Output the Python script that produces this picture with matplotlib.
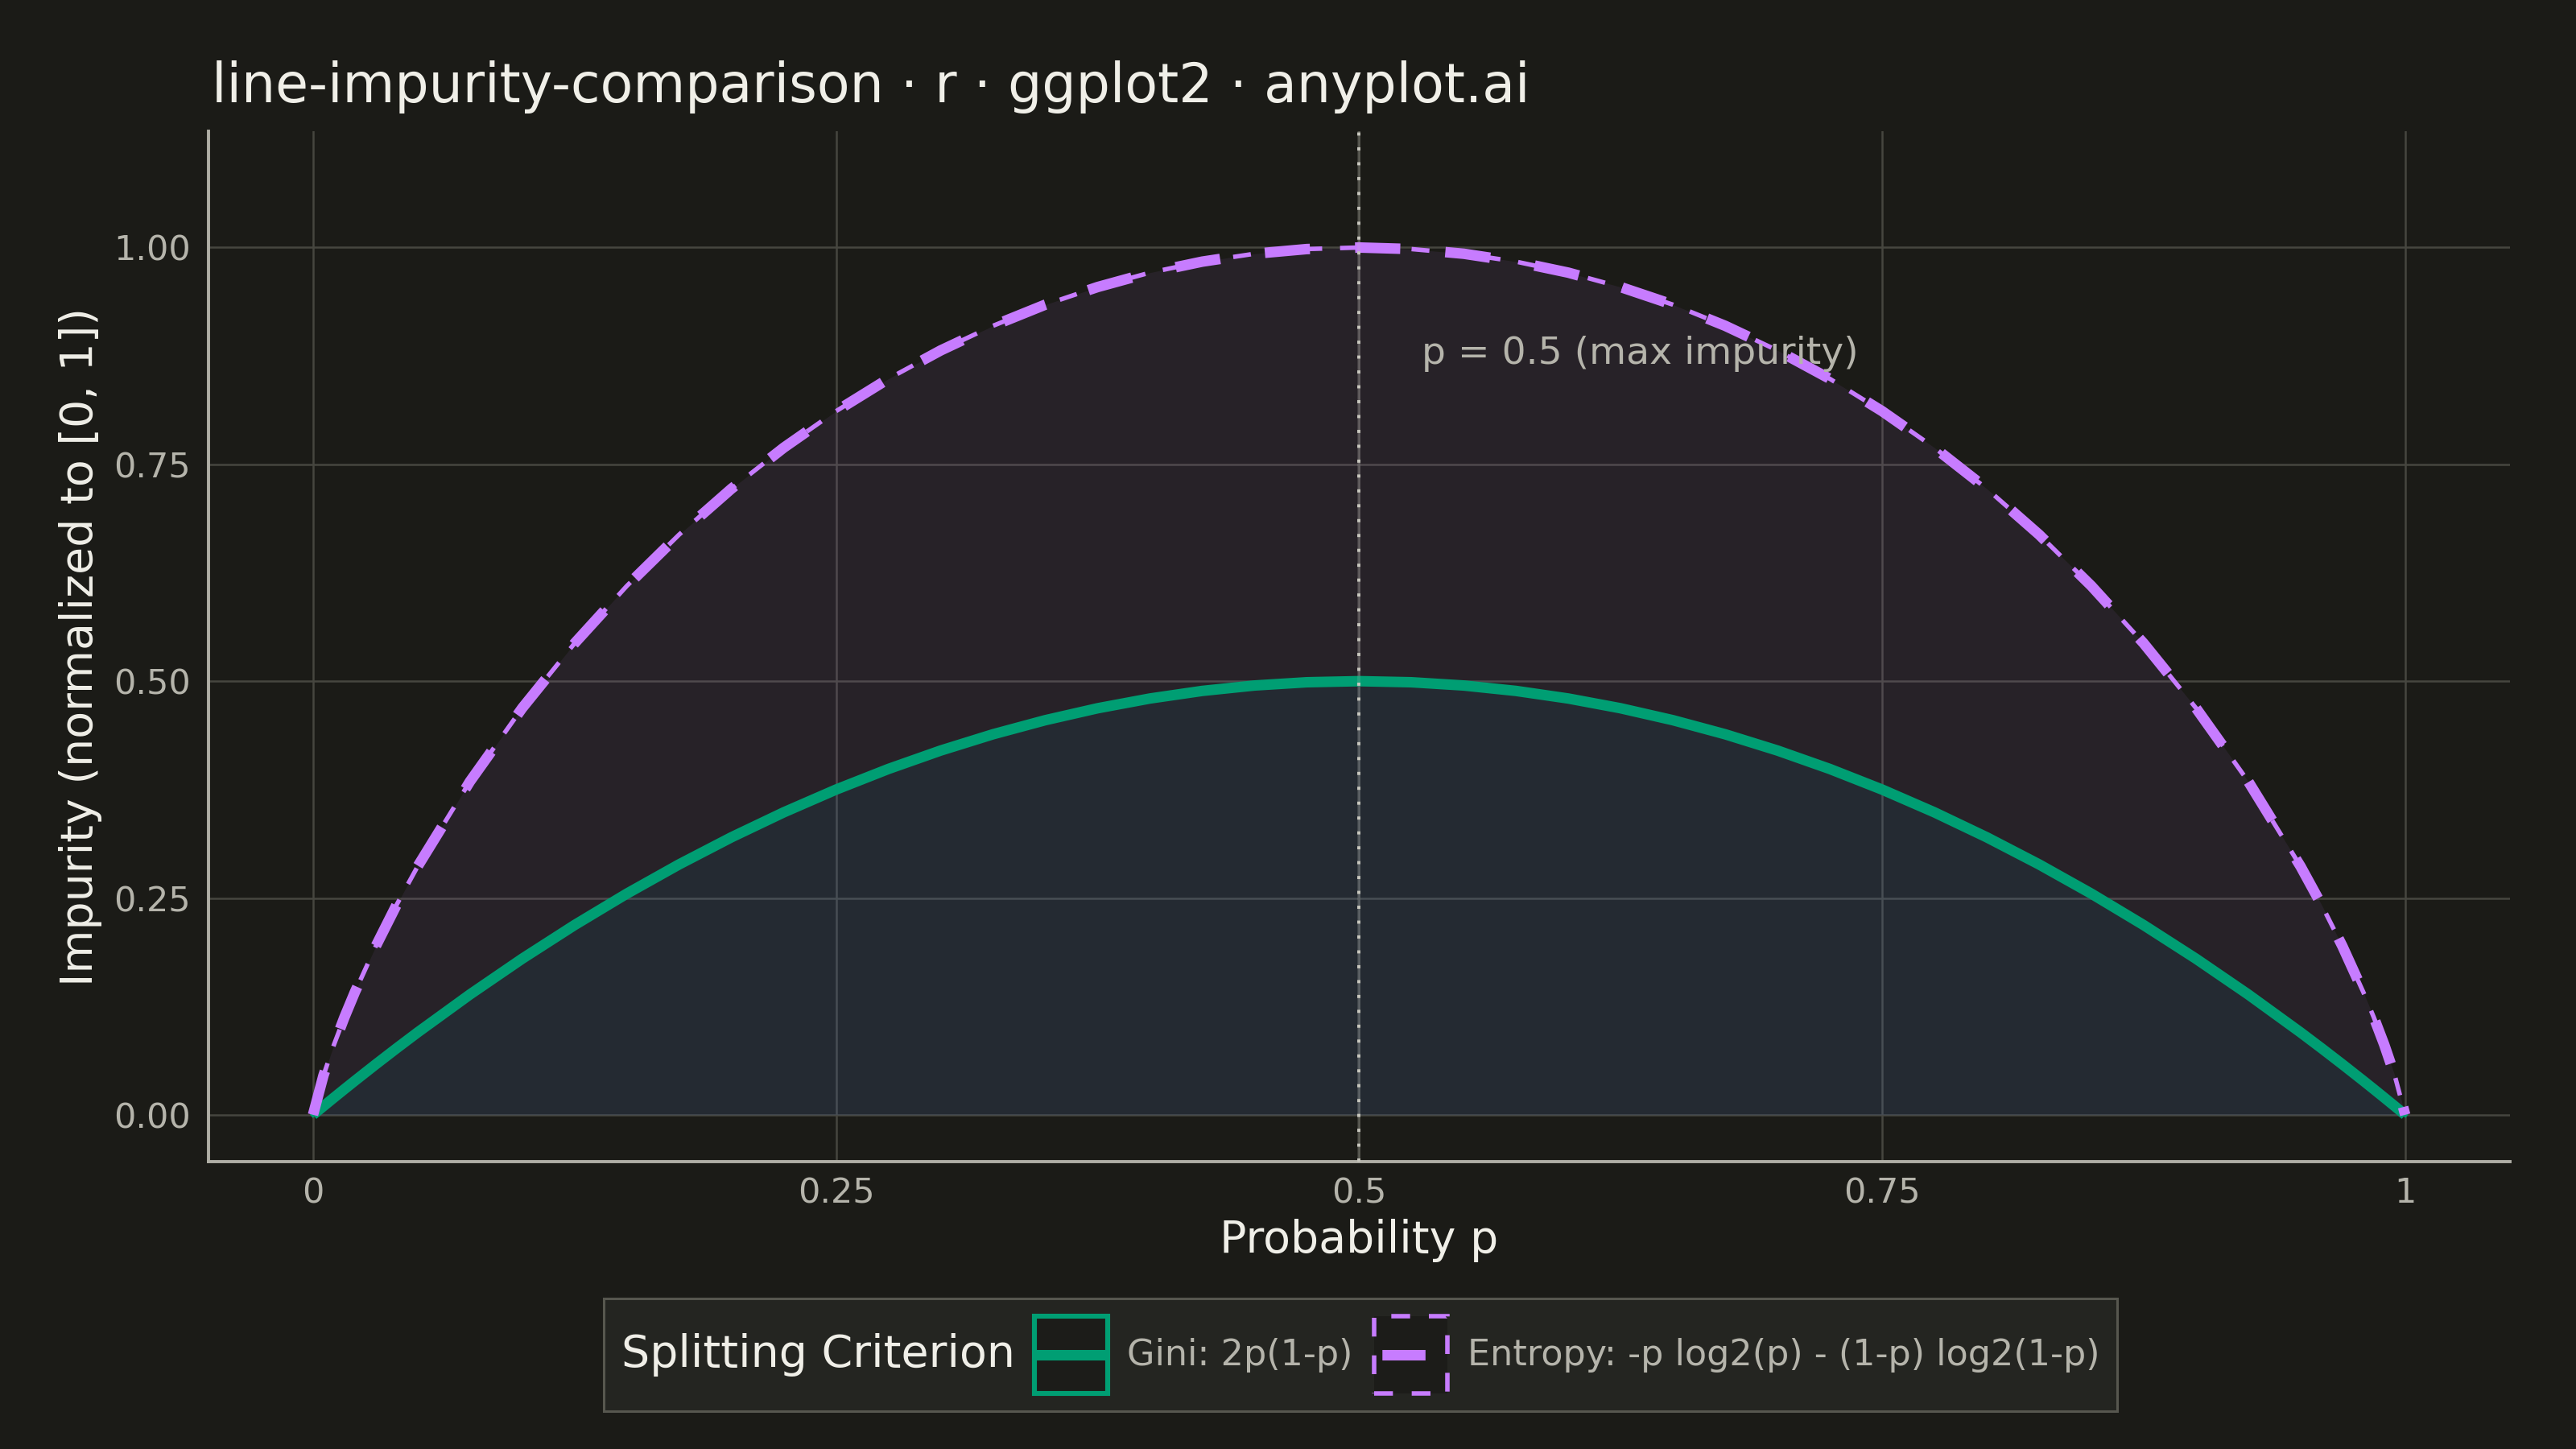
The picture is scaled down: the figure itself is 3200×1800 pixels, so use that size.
"""
Gini vs entropy impurity curves, dark theme, ggplot-like layout.
"""

import matplotlib
matplotlib.use("Agg")

import matplotlib.pyplot as plt
from matplotlib.lines import Line2D
from matplotlib.patches import Rectangle
from matplotlib.offsetbox import HPacker
from matplotlib.legend_handler import HandlerLine2D


# Colours
BG = "#1B1B17"
LEGEND_BG = "#242521"
TEXT_MAIN = "#F0EFE8"
TEXT_SOFT = "#B5B4AB"
GRID = "#46463F"
GREEN = "#009E73"
GINI_FILL = "#0A7292"
PURPLE = "#C77CFF"

# Data
p_values = [
    0.0, 0.005, 0.01, 0.015, 0.02, 0.03, 0.04, 0.05, 0.075, 0.1, 0.125,
    0.15, 0.175, 0.2, 0.225, 0.25, 0.275, 0.3, 0.325, 0.35, 0.375, 0.4,
    0.425, 0.45, 0.475, 0.5, 0.525, 0.55, 0.575, 0.6, 0.625, 0.65, 0.675,
    0.7, 0.725, 0.75, 0.775, 0.8, 0.825, 0.85, 0.875, 0.9, 0.925, 0.95,
    0.96, 0.97, 0.98, 0.985, 0.99, 0.995, 1.0,
]
gini_values = [
    0.0, 0.00995, 0.0198, 0.02955, 0.0392, 0.0582, 0.0768, 0.095, 0.13875,
    0.18, 0.21875, 0.255, 0.28875, 0.32, 0.34875, 0.375, 0.39875, 0.42,
    0.43875, 0.455, 0.46875, 0.48, 0.48875, 0.495, 0.49875, 0.5, 0.49875,
    0.495, 0.48875, 0.48, 0.46875, 0.455, 0.43875, 0.42, 0.39875, 0.375,
    0.34875, 0.32, 0.28875, 0.255, 0.21875, 0.18, 0.13875, 0.095, 0.0768,
    0.0582, 0.0392, 0.02955, 0.0198, 0.00995, 0.0,
]
entropy_values = [
    0.0, 0.0454, 0.0808, 0.1124, 0.1414, 0.1944, 0.2423, 0.2864, 0.3843,
    0.469, 0.5436, 0.6098, 0.669, 0.7219, 0.7692, 0.8113, 0.8486, 0.8813,
    0.9097, 0.9341, 0.9544, 0.971, 0.9837, 0.9928, 0.9982, 1.0, 0.9982,
    0.9928, 0.9837, 0.971, 0.9544, 0.9341, 0.9097, 0.8813, 0.8486, 0.8113,
    0.7692, 0.7219, 0.669, 0.6098, 0.5436, 0.469, 0.3843, 0.2864, 0.2423,
    0.1944, 0.1414, 0.1124, 0.0808, 0.0454, 0.0,
]

x_ticks = [0, 0.25, 0.5, 0.75, 1]
x_tick_labels = ["0", "0.25", "0.5", "0.75", "1"]
y_ticks = [0, 0.25, 0.5, 0.75, 1.0]
y_tick_labels = ["0.00", "0.25", "0.50", "0.75", "1.00"]

max_p = 0.5
annotation_xy = (0.53, 0.877)

gini_label = "Gini: 2p(1-p)"
entropy_label = "Entropy: -p log2(p) - (1-p) log2(1-p)"

LINE_W = 4.7
THIN_W = 2.0


class CenteredLineHandler(HandlerLine2D):
    """Line key drawn through the vertical middle of the key box."""

    def create_artists(self, legend, orig_handle, xdescent, ydescent,
                       width, height, fontsize, trans):
        artists = super().create_artists(legend, orig_handle, xdescent,
                                         ydescent, width, height, fontsize,
                                         trans)
        for art in artists:
            n = len(art.get_xdata())
            art.set_ydata([height / 2 - ydescent] * n)
        return artists


fig = plt.figure(figsize=(16, 9), dpi=200, facecolor=BG)
ax = fig.add_axes([0.0809, 0.1983, 0.8934, 0.7111], facecolor=BG)

# Ribbons (fill + thin outline on the upper edge)
ax.fill_between(p_values, 0, entropy_values, color=PURPLE, alpha=0.075,
                linewidth=0, zorder=1)
ax.fill_between(p_values, 0, gini_values, color=GINI_FILL, alpha=0.1,
                linewidth=0, zorder=1)
ax.plot(p_values, entropy_values, color=PURPLE, linewidth=THIN_W,
        dashes=(4.0, 4.0), zorder=2)
ax.plot(p_values, gini_values, color=GREEN, linewidth=THIN_W, zorder=2)

# Main lines
ax.plot(p_values, gini_values, color=GREEN, linewidth=LINE_W,
        solid_capstyle="butt", zorder=3)
ax.plot(p_values, entropy_values, color=PURPLE, linewidth=LINE_W,
        dashes=(4.3, 4.3), zorder=3)

# Max impurity marker
ax.axvline(max_p, color="#C8C7BE", linewidth=1.4, alpha=0.18, zorder=4)
ax.axvline(max_p, color="#C8C7BE", linewidth=1.4, dashes=(1.0, 3.75),
           zorder=4)
ax.text(annotation_xy[0], annotation_xy[1], "p = 0.5 (max impurity)",
        color=TEXT_SOFT, fontsize=17, ha="left", va="center", zorder=5)

ax.set_xlim(-0.05, 1.05)
ax.set_ylim(-0.054, 1.134)
ax.set_xticks(x_ticks)
ax.set_xticklabels(x_tick_labels)
ax.set_yticks(y_ticks)
ax.set_yticklabels(y_tick_labels)
ax.tick_params(axis="both", length=0, labelsize=15.5, labelcolor=TEXT_SOFT)
ax.tick_params(axis="x", pad=6.5)
ax.tick_params(axis="y", pad=8)

ax.grid(True, color=GRID, linewidth=0.9)
ax.set_axisbelow(True)

for side in ("top", "right"):
    ax.spines[side].set_visible(False)
for side in ("left", "bottom"):
    ax.spines[side].set_color("#B0AFA6")
    ax.spines[side].set_linewidth(1.4)

ax.set_xlabel("Probability p", fontsize=20, color=TEXT_MAIN, labelpad=4)
ax.set_ylabel("Impurity (normalized to [0, 1])", fontsize=20,
              color=TEXT_MAIN, labelpad=5)

fig.text(263 / 3200, 1 - 127 / 1800,
         "line-impurity-comparison · r · ggplot2 · anyplot.ai",
         fontsize=24, color=TEXT_MAIN, ha="left", va="baseline")

# Legend keys: ribbon box + line, as ggplot draws them
gini_key = (
    Rectangle((0, 0), 1, 1, facecolor="#1C1C19", edgecolor=GREEN,
              linewidth=2.2),
    Line2D([], [], color=GREEN, linewidth=LINE_W, solid_capstyle="butt"),
)
entropy_key = (
    Rectangle((0, 0), 1, 1, facecolor="#1C1C19", edgecolor=PURPLE,
              linewidth=THIN_W, linestyle=(0, (4.2, 4.2))),
    Line2D([], [], color=PURPLE, linewidth=LINE_W,
           linestyle=(0, (0.0, 0.75, 4.1, 20.0))),
)

leg = fig.legend(
    [gini_key, entropy_key], [gini_label, entropy_label],
    handler_map={Line2D: CenteredLineHandler()},
    loc="center", bbox_to_anchor=(1690 / 3200, 1 - 1683 / 1800),
    ncol=2, fontsize=16, labelcolor=TEXT_SOFT,
    title="Splitting Criterion", title_fontsize=20,
    handlelength=2.05, handleheight=2.95, handletextpad=0.55,
    columnspacing=0.6, borderpad=0.5,
    frameon=True, fancybox=False, framealpha=1,
    facecolor=LEGEND_BG, edgecolor="#57574F",
)
leg.get_frame().set_linewidth(1.1)
leg.get_title().set_color(TEXT_MAIN)

# put the legend title to the left of the keys
leg._legend_box = HPacker(
    pad=0.5 * 16, sep=8.6, align="center",
    children=[leg._legend_title_box, leg._legend_handle_box],
)
leg._legend_box.set_figure(fig)
leg._set_loc(leg._get_loc())

fig.savefig("out.png", dpi=200, facecolor=BG)
